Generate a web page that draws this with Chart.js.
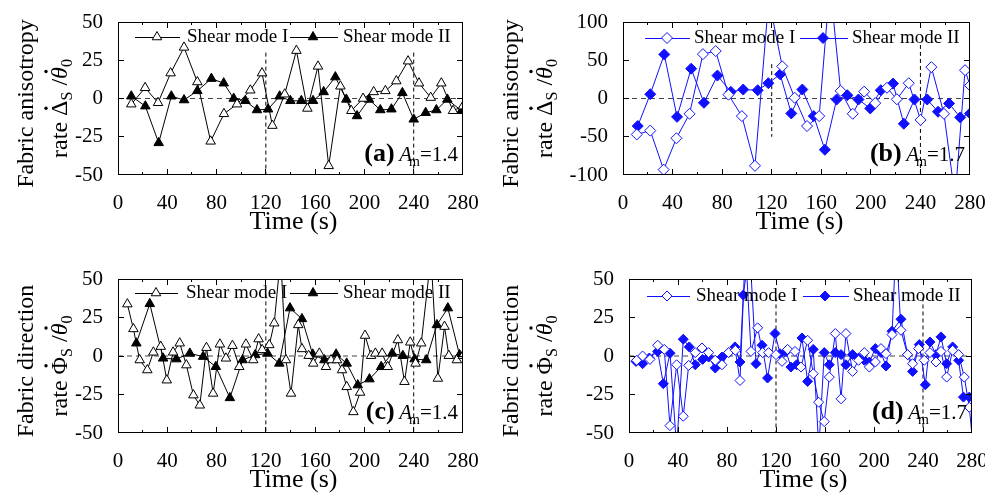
<!DOCTYPE html>
<html>
<head>
<meta charset="utf-8">
<script src="https://cdn.jsdelivr.net/npm/chart.js@4.4.1/dist/chart.umd.min.js"></script>
<style>
  body { margin: 0; background: #fff; }
  #wrap { position: relative; width: 985px; height: 497px; overflow: hidden; }
  canvas { position: absolute; }
  #boxes { position: absolute; left: 0; top: 0; width: 985px; height: 497px; pointer-events: none; }
  #boxes div { position: absolute; background: #000; }
</style>
</head>
<body>
<div id="wrap">
  <canvas id="chartA" width="492" height="248" style="left:0;top:0"></canvas>
  <canvas id="chartB" width="493" height="248" style="left:492px;top:0"></canvas>
  <canvas id="chartC" width="492" height="249" style="left:0;top:248px"></canvas>
  <canvas id="chartD" width="493" height="249" style="left:492px;top:248px"></canvas>
  <canvas id="frames" width="985" height="497" style="left:0;top:0;pointer-events:none"></canvas>
  <div id="boxes"></div>
</div>
<script>
// tick labels
const timeTicks = [0, 40, 80, 120, 160, 200, 240, 280];
const timeMinorTicks = [20, 60, 100, 140, 180, 220, 260];
const rateTicks50 = [-50, -25, 0, 25, 50];
const rateTicks100 = [-100, -50, 0, 50, 100];

// (a) fabric anisotropy rate, Am = 1.4
const timeA1 = [10.8, 22, 32.5, 42.7, 53.6, 64.4, 75.2, 86, 96.6, 107.4, 116.9, 125.3, 135.3, 144.8, 153.7, 162.3, 171, 180.5, 189.4, 198.9, 207.5, 217, 225.9, 235.4, 244.3, 253.8, 262.4, 271.9, 280];
const rateA1 = [-3.7, 7, -2.8, 16.6, 33.4, 10.8, -28, -10, -3.7, 5.4, 16.6, -17.7, 2.8, 31.3, -6.5, 21, -44, 8, -8, 0, 4.3, 5, 11.4, 24.4, 10, 0.6, 10, -8, -5];
const timeA2 = [10.8, 22.2, 33, 43.3, 53.6, 64.4, 75.8, 85.8, 93.9, 103.4, 112.8, 121.8, 131.2, 139.9, 148.8, 158.3, 166.9, 176.4, 185.3, 194, 203.7, 212.9, 221.9, 230.8, 240, 249.7, 258.4, 267.3, 278.7];
const rateA2 = [1.5, -5, -29, 1.5, -1, 5, 13, 10, 0, -1.5, -7.5, -7, 1.5, -1.5, -1.5, -1.5, 4.3, 14, -0.6, -11.4, -0.6, -7.5, -7, 3.7, -13.6, -9.3, -7.5, -0.6, -8];

// (b) fabric anisotropy rate, Am = 1.7
const timeB1 = [11.1, 22, 32.8, 43.1, 53.7, 64.5, 74.8, 85.1, 95.9, 106.5, 117.6, 128.5, 138.5, 148.5, 158.3, 167, 175.6, 185.4, 194.6, 203.5, 213, 221, 230.6, 240.1, 248.8, 259, 268, 276, 280];
const rateB1 = [-47, -42, -93, -52, -20, 58, 62, 5, -23, -88, 130, 42, 1, -36, -23, 150, 10, -20, 9, -6, 14, -1, 20, -28, 41, -20, -130, 37, 17];
const timeB2 = [11.9, 22, 33.3, 43.6, 55, 65.3, 76.2, 87, 97, 108.7, 117.3, 126.8, 135.8, 144.7, 153.9, 162.9, 172.4, 181, 190, 199.5, 208, 217.9, 226.6, 235.2, 245.5, 254.2, 263.1, 272.1, 280];
const rateB2 = [-36, 5.6, 57.6, -24, 39, -5.6, 30, 8.7, 11.7, 10.8, 20, 31.6, -19.5, 11.7, -23, -67, -1.3, 4.3, -1.3, -13, 10.8, 19.5, -33, -1.3, -1.3, -17.3, -6.5, -24.7, -19.5];

// (c) fabric direction rate, Am = 1.4
const timeC1 = [7.6, 12.5, 17.6, 23.8, 28.7, 34.7, 39.6, 44.7, 50.1, 55.5, 61.2, 66.4, 71.8, 77.2, 82.7, 87.6, 92.9, 98.4, 103.8, 109.8, 114.1, 117, 122.8, 126.8, 132, 136.3, 140.4, 146.3, 149.3, 154.7, 158.5, 163.4, 168.8, 172.9, 177.8, 181.8, 185.6, 191, 196.5, 200.5, 205.4, 208.9, 214.4, 218.9, 227.1, 232.5, 237.2, 241.5, 246.1, 254, 259.6, 265, 268.5, 275, 280];
const rateC1 = [33.7, 17.6, -2.6, -9.1, 2.4, 6.1, -15.7, 2.4, 8.3, -5.9, -25.4, -32, 5.4, -24.3, 7.6, -1.5, 6.7, -7, 7.6, -2.6, 11, 4, 7.2, 21.3, 65, -2.6, -24.3, 20.2, 4.6, 0.2, -4.8, 1.7, -7, -2.6, -2.6, -9.1, -20, -36.3, -23.7, 13.3, 0.2, 1.7, 1.7, -7, 10.4, -16.7, 8.9, -4.8, 8.3, 65, -14.6, 19.1, 0.2, -2.6, 0.2];
const timeC2 = [14.9, 25.8, 36.6, 47.4, 58.3, 69.1, 79.4, 90.8, 101.1, 111.4, 121.4, 130.9, 139.6, 149.3, 158, 167.5, 177, 185.6, 194.6, 204.1, 213.6, 222.5, 231.2, 240.7, 250.2, 258.8, 267.7, 277.2];
const rateC2 = [8.3, 33.9, -1.5, -2, 1.7, -0.4, -7, -27.2, -2.6, 0.7, 1.7, -4.8, 31.1, 24.1, 1.1, -2.6, 1.1, -4.8, -18.9, -15, -7, 1.7, 0.2, -2, -2.6, 20.2, 31.1, 0.7];

// (d) fabric direction rate, Am = 1.7
const timeD1 = [6.2, 11.1, 17.1, 23.4, 28.8, 33.4, 38.9, 44.3, 48.7, 54.1, 59.6, 65, 70.4, 75.9, 81.3, 86.8, 90.6, 95, 99.6, 105, 109.1, 114, 120, 124.9, 129.5, 135.5, 140.4, 145.8, 150.4, 154.8, 159.4, 163.5, 168.4, 173.1, 177.1, 182.5, 187.4, 192.1, 196.2, 201.1, 205.7, 209.8, 214.7, 218, 222, 227.4, 231.5, 236.4, 241, 245.7, 250.6, 254.7, 259.3, 264.2, 269.1, 273.7, 277.8, 281];
const rateD1 = [-2.8, 0, -2.2, 7, 4.3, -45.2, -5.7, -39.1, -6.1, 2.2, 5.2, 2.2, -2.8, -5.7, 2.2, 3.7, -15.9, 70, 3, 18.3, 2.2, 2.2, 0.9, -3.5, 4.3, 3, -7.2, 10.2, -11.5, -30, -42.6, -13.7, 14.6, -27.8, 14.6, -10, -2.8, 2.2, -7.2, -3.9, 4.8, 1.5, 13.9, 75, 16.7, 0.9, -5, 4.8, -2.8, 2.2, -3.9, 3, -13.7, 3.7, 0.9, -13.7, -33.3, -60];
const timeD2 = [5.7, 11.1, 16.6, 23.4, 28, 33.5, 38.9, 44.3, 49.2, 54.1, 60.1, 65, 70.4, 75.9, 81.3, 86.5, 90.6, 93.3, 98.5, 103.7, 108.6, 113.1, 119.2, 123.3, 128.2, 132.2, 136.8, 141.2, 145.8, 150.4, 155, 159.4, 163.5, 168.4, 173.1, 177.1, 182.5, 187.4, 192.1, 196.2, 201.1, 205.7, 209.8, 214.7, 222, 227.4, 231.5, 237, 241.9, 245.7, 250.6, 254.7, 259.3, 264.2, 269.1, 273, 277.8];
const rateD2 = [-3.5, -5, -1.3, 3, -18, 1.8, -60, 10.9, 5.9, -5.7, -2.2, -0.7, -7.8, -0.7, 2.2, 5.9, -3.9, 39.6, 70, -5, 7, -14.3, 14.6, 1.5, 3, -7.2, -5.7, 11.7, -16.5, 4.3, -60, 2.2, -5.7, 2.2, 0.9, -5.7, 0.9, -1.3, -2.8, -3.9, 4.8, 2.2, -6.5, 16.1, 23.9, 0.9, -10, 7.4, -18.7, 9.1, 0.9, 12.4, -5, 5.9, -2.8, -26.7, -26.7];

// shear mode change markers (dashed verticals), value extents
const modeChanges = [120, 240];
const guidesA = [[30, -50], [30, -50]];
const guidesB = [[45, -50], [70, -100]];
const guidesC = [[40, -50], [40, -50]];
const guidesD = [[38, -50], [38, -50]];

const SERIF = '"Liberation Serif", "Times New Roman", serif';
const BLUE = '#1010ff';
Chart.defaults.font.family = SERIF;
Chart.defaults.color = '#000';

const pts = (t, v) => t.map((x, i) => ({ x, y: v[i] }));

function seriesDs(t, v, color, style, filled, r) {
  return {
    data: pts(t, v),
    borderColor: color,
    borderWidth: 1,
    pointStyle: style,
    pointRadius: r,
    pointBorderWidth: 1,
    pointBorderColor: color,
    pointBackgroundColor: filled ? color : '#fff',
    tension: 0
  };
}

function refDs(xs, ys, color, dash) {
  return { data: pts(xs, ys), borderColor: color, borderWidth: 1, borderDash: dash, pointRadius: 0 };
}

function drawMarker(ctx, style, x, y, r, color, filled) {
  ctx.beginPath();
  if (style === 'triangle') {
    for (let k = 0; k < 3; k++) {
      const a = k * 2 * Math.PI / 3;
      const px = x + Math.sin(a) * r, py = y - Math.cos(a) * r;
      if (k) ctx.lineTo(px, py); else ctx.moveTo(px, py);
    }
  } else {
    ctx.moveTo(x - r, y); ctx.lineTo(x, y - r); ctx.lineTo(x + r, y); ctx.lineTo(x, y + r);
  }
  ctx.closePath();
  ctx.fillStyle = filled ? color : '#fff';
  ctx.fill();
  ctx.strokeStyle = color;
  ctx.lineWidth = 1;
  ctx.stroke();
}

// text made of runs with their own font, offset and optional dot accent
function drawRich(ctx, parts, x, y, align, rotate) {
  ctx.save();
  ctx.translate(x, y);
  if (rotate) ctx.rotate(-Math.PI / 2);
  const widths = parts.map(p => { ctx.font = p.font; return ctx.measureText(p.t).width; });
  const w = widths.reduce((s, v, i) => s + v + (parts[i].dx || 0), 0);
  let cx = align === 'right' ? -w : align === 'center' ? -w / 2 : 0;
  ctx.textBaseline = 'alphabetic';
  ctx.textAlign = 'left';
  ctx.fillStyle = '#000';
  parts.forEach((p, i) => {
    cx += p.dx || 0;
    ctx.font = p.font;
    ctx.fillText(p.t, cx, p.dy || 0);
    if (p.dot) {
      ctx.beginPath();
      ctx.arc(cx + widths[i] / 2 + (p.dotDx || 0), -21, 1.7, 0, 2 * Math.PI);
      ctx.fill();
    }
    cx += widths[i];
  });
  ctx.restore();
}

const F = s => `${s}px ${SERIF}`;
const FI = s => `italic ${s}px ${SERIF}`;

function yTitle(kind, sym) {
  return [
    [{ t: 'Fabric ' + kind, font: F(24) }],
    [{ t: 'rate ', font: F(24) }, { t: sym, font: F(24), dot: true },
     { t: 'S', font: F(16), dy: 5 }, { t: ' /', font: F(24) },
     { t: 'θ', font: FI(24), dot: true, dotDx: 1.5 }, { t: '0', font: F(16), dy: 5 }]
  ];
}

const panels = {};

const decor = {
  id: 'decor',
  afterDraw(chart) {
    const { ctx, chartArea: a } = chart;
    const p = panels[chart.canvas.id];
    if (!p) return;
    ctx.save();
    ctx.setLineDash([]);
    // legend
    const ly = Math.round(a.top + p.legendY);
    p.legend.forEach((it, i) => {
      ctx.strokeStyle = p.color;
      ctx.lineWidth = 1;
      ctx.beginPath();
      ctx.moveTo(a.left + it[0], ly + 0.5); ctx.lineTo(a.left + it[1], ly + 0.5);
      ctx.stroke();
      drawMarker(ctx, p.marker, a.left + it[2], ly, p.r, p.color, i === 1);
      ctx.font = F(19);
      ctx.textBaseline = 'middle';
      ctx.textAlign = 'left';
      ctx.fillStyle = '#000';
      ctx.fillText(i === 0 ? 'Shear mode I' : 'Shear mode II', a.left + it[3], ly);
    });

    // axis titles
    ctx.font = F(26);
    ctx.textAlign = 'center';
    ctx.textBaseline = 'middle';
    ctx.fillStyle = '#000';
    ctx.fillText('Time (s)', (a.left + a.right) / 2 + 3, a.bottom + 47);
    const cy = (a.top + a.bottom) / 2;
    drawRich(ctx, p.title[0], a.left + p.titleX[0], cy + 5, 'center', true);
    drawRich(ctx, p.title[1], a.left + p.titleX[1], cy + 10, 'center', true);

    // panel tag
    drawRich(ctx, [
      { t: p.tag, font: `bold 26px ${SERIF}` }, { t: ' ', font: F(18) },
      { t: 'A', font: FI(21) }, { t: 'm', font: F(14), dy: 5, dx: -3 },
      { t: '=' + p.am, font: F(21) }
    ], a.right - 5, a.bottom - 14, 'right', false);
    ctx.restore();
  }
};

function makePanel(id, p) {
  panels[id] = p;
  const canvas = document.getElementById(id);
  const W = canvas.width, H = canvas.height, xH = 40;
  const datasets = [
    seriesDs(p.s1[0], p.s1[1], p.color, p.marker, false, p.r),
    seriesDs(p.s2[0], p.s2[1], p.color, p.marker, true, p.r),
    refDs([0, 280], [0, 0], '#444', [5, 4]),
    refDs([modeChanges[0], modeChanges[0]], p.guides[0], '#000', [4, 3]),
    refDs([modeChanges[1], modeChanges[1]], p.guides[1], '#000', [4, 3])
  ];
  return new Chart(canvas, {
    type: 'line',
    data: { datasets },
    plugins: [decor],
    options: {
      responsive: false,
      animation: false,
      devicePixelRatio: 1,
      layout: { padding: { left: 0, top: p.area.top, right: W - p.area.right, bottom: H - p.area.bottom - xH } },
      plugins: {
        legend: { display: false },
        tooltip: { enabled: false }
      },
      scales: {
        x: {
          type: 'linear', min: 0, max: 280,
          grid: { display: false }, border: { display: false },
          afterBuildTicks: s => { s.ticks = timeTicks.map(v => ({ value: v })); },
          afterFit: s => { s.height = xH; s.paddingLeft = 0; s.paddingRight = 0; },
          ticks: { font: { size: 21 }, padding: 8, maxRotation: 0, autoSkip: false }
        },
        y: {
          min: p.yTicks[0], max: p.yTicks[p.yTicks.length - 1],
          grid: { display: false }, border: { display: false },
          afterBuildTicks: s => { s.ticks = p.yTicks.map(v => ({ value: v })); },
          afterFit: s => { s.width = p.area.left; s.paddingTop = 0; s.paddingBottom = 0; },
          ticks: { font: { size: 21 }, padding: 7 }
        }
      }
    }
  });
}

const charts = [
  makePanel('chartA', {
    s1: [timeA1, rateA1], s2: [timeA2, rateA2], guides: guidesA, yTicks: rateTicks50,
    color: '#000', marker: 'triangle', r: 5.5,
    area: { left: 118, top: 22, right: 463, bottom: 175 },
    legendY: 15, legend: [[17, 62, 39, 69], [172, 220, 195, 225]],
    title: yTitle('anisotropy', 'Δ'), titleX: [-85, -51], tag: '(a)', am: '1.4'
  }),
  makePanel('chartB', {
    s1: [timeB1, rateB1], s2: [timeB2, rateB2], guides: guidesB, yTicks: rateTicks100,
    color: BLUE, marker: 'rectRot', r: 5.5,
    area: { left: 131, top: 22, right: 478, bottom: 175 },
    legendY: 16, legend: [[22, 67, 44, 71], [177, 225, 200, 229]],
    title: yTitle('anisotropy', 'Δ'), titleX: [-105, -71], tag: '(b)', am: '1.7'
  }),
  makePanel('chartC', {
    s1: [timeC1, rateC1], s2: [timeC2, rateC2], guides: guidesC, yTicks: rateTicks50,
    color: '#000', marker: 'triangle', r: 5.5,
    area: { left: 118, top: 31, right: 463, bottom: 185 },
    legendY: 14, legend: [[17, 60, 38, 68], [172, 220, 195, 225]],
    title: yTitle('direction', 'Φ'), titleX: [-85, -51], tag: '(c)', am: '1.4'
  }),
  makePanel('chartD', {
    s1: [timeD1, rateD1], s2: [timeD2, rateD2], guides: guidesD, yTicks: rateTicks50,
    color: BLUE, marker: 'rectRot', r: 5,
    area: { left: 137, top: 31, right: 480, bottom: 185 },
    legendY: 17, legend: [[18, 61, 38, 67], [174, 220, 196, 224]],
    title: yTitle('direction', 'Φ'), titleX: [-111, -77], tag: '(d)', am: '1.7'
  })
];

// plot boxes and inward ticks, placed from each chart's own scales,
// painted on a shared overlay canvas and mirrored as 1px page elements
const overlay = document.getElementById('frames').getContext('2d');
const boxes = document.getElementById('boxes');
function bar(x, y, w, h) {
  overlay.fillRect(x, y, w, h);
  const d = document.createElement('div');
  d.style.left = x + 'px'; d.style.top = y + 'px';
  d.style.width = w + 'px'; d.style.height = h + 'px';
  boxes.appendChild(d);
}
overlay.fillStyle = '#000';
charts.forEach(chart => {
  const ox = parseFloat(chart.canvas.style.left) || 0;
  const oy = parseFloat(chart.canvas.style.top) || 0;
  const { chartArea: a, scales: { x, y } } = chart;
  const L = ox + Math.round(a.left), R = ox + Math.round(a.right) - 1;
  const T = oy + Math.round(a.top), B = oy + Math.round(a.bottom) - 1;
  bar(L, T, R - L + 1, 1);
  bar(L, B, R - L + 1, 1);
  bar(L, T, 1, B - T + 1);
  bar(R, T, 1, B - T + 1);
  [...timeTicks, ...timeMinorTicks].forEach(v => {
    const px = Math.min(R, ox + Math.floor(x.getPixelForValue(v)));
    const len = v % 40 ? 3 : 6;
    bar(px, B - len + 1, 1, len);
    bar(px, T, 1, len);
  });
  y.ticks.forEach(t => {
    const py = Math.min(B, oy + Math.floor(y.getPixelForValue(t.value)));
    bar(L, py, 6, 1);
    bar(R - 5, py, 6, 1);
  });
});
</script>
</body>
</html>
